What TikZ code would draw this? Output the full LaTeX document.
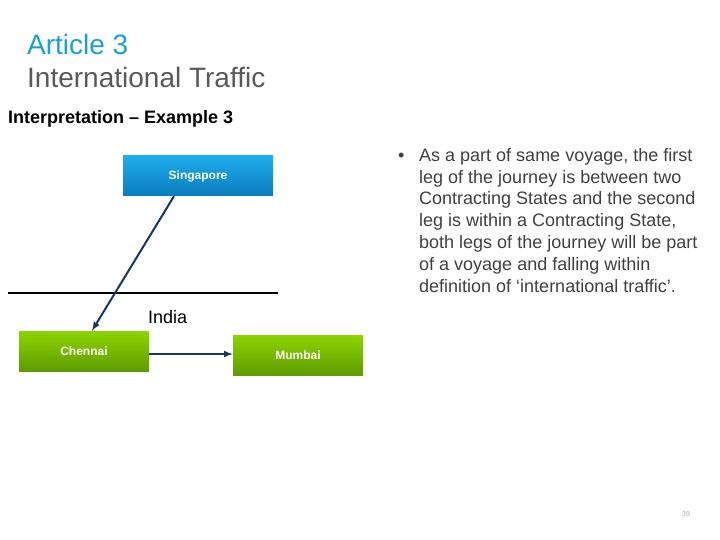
\documentclass[tikz,border=0pt]{standalone}
\usepackage{fontspec}
\setmainfont{Liberation Sans}
\usepackage{tikz}
\usetikzlibrary{arrows}

\definecolor{titleblue}{HTML}{1BA1D0}
\definecolor{titlegrey}{HTML}{595959}
\definecolor{bodygrey}{HTML}{404040}
\definecolor{navy}{HTML}{17375E}
\definecolor{boxblueA}{HTML}{1EACEC}
\definecolor{boxblueB}{HTML}{0A7BBE}
\definecolor{boxgreenA}{HTML}{8DD400}
\definecolor{boxgreenB}{HTML}{5E9C00}

\begin{document}
\begin{tikzpicture}[x=1pt, y=-1pt,
    citybox/.style={minimum width=130pt, minimum height=40pt, inner sep=0pt,
        text=white, font=\fontsize{12}{14}\selectfont\bfseries},
    bluebox/.style={citybox, top color=boxblueA, bottom color=boxblueB},
    greenbox/.style={citybox, top color=boxgreenA, bottom color=boxgreenB},
    route/.style={navy, line width=2pt, -latex}]
        \useasboundingbox (0,0) rectangle (720,540);

        % heading
        \node[anchor=base west, inner sep=0pt, text=titleblue, font=\fontsize{28}{32}\selectfont] at (27,55) (art) {Article 3};
        \node[anchor=base west, inner sep=0pt, text=titlegrey, font=\fontsize{28}{32}\selectfont] at (27,88) (intl) {International Traffic};
        \node[anchor=base west, inner sep=0pt, font=\fontsize{18}{20}\selectfont\bfseries] at (8,124) (interp) {Interpretation -- Example 3};

        % cities
        \node[bluebox, minimum width=150pt] at (198,176) (sg) {Singapore};
        \node[greenbox] at (84,351) (ch) {Chennai};
        \node[greenbox] at (298,355) (mb) {Mumbai};

        % border of india
        \coordinate (bl) at (8,293);
        \coordinate (br) at (278,293);
        \draw[line width=2pt] (bl) -- (br);
        \node[anchor=base west, inner sep=0pt, font=\fontsize{18}{20}\selectfont] at (148,323) (india) {India};

        % legs of the voyage
        \draw[route] ([xshift=-24pt]sg.south) -- ([xshift=8pt]ch.north);
        \draw[route] ([yshift=-3pt]ch.east) -- ([yshift=1pt]mb.west);

        % text
        \node[anchor=base west, inner sep=0pt, text=bodygrey, font=\fontsize{18}{20}\selectfont] at (398,162) (dot) {\textbullet};
        \node[anchor=north west, inner sep=0pt, align=left, text=bodygrey,
            font=\fontsize{18}{21.8}\selectfont] at (419,148) (note)
            {As a part of same voyage, the first\\
             leg of the journey is between two\\
             Contracting States and the second\\
             leg is within a Contracting State,\\
             both legs of the journey will be part\\
             of a voyage and falling within\\
             definition of ‘international traffic’.};

        % page number
        \node[text=gray!70, font=\fontsize{7}{8}\selectfont, inner sep=0pt] at (686,514) (pg) {39};
    \end{tikzpicture}
\end{document}
